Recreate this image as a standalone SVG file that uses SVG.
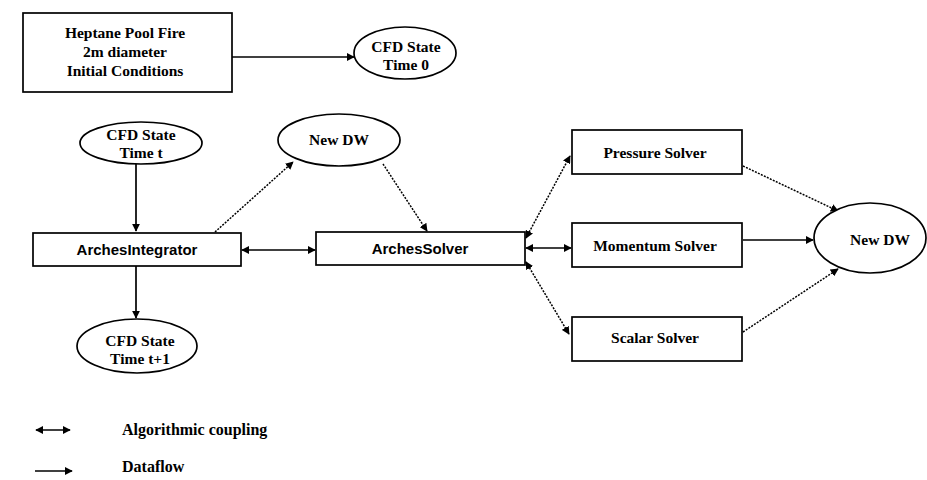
<svg xmlns="http://www.w3.org/2000/svg" width="927" height="480" viewBox="0 0 927 480">
<defs>
<marker id="ah" viewBox="0 0 10 10" refX="9" refY="5" markerWidth="8" markerHeight="8" orient="auto-start-reverse" markerUnits="userSpaceOnUse">
<path d="M0,0 L10,5 L0,10 z" fill="#000"/>
</marker>
<style>
.box{fill:#fff;stroke:#000;stroke-width:1.7}
.ell{fill:#fff;stroke:#000;stroke-width:1.7}
.t{font-family:"Liberation Serif","Times New Roman",serif;font-size:15.5px;font-weight:bold;fill:#000;text-anchor:middle}
.s{font-family:"Liberation Sans",Arial,sans-serif;font-size:15px;font-weight:bold;fill:#000;text-anchor:middle}
.lg{font-family:"Liberation Serif","Times New Roman",serif;font-size:16px;font-weight:bold;fill:#000}
.ln{fill:none;stroke:#000;stroke-width:1.7}
.dot{fill:none;stroke:#000;stroke-width:1.5;stroke-dasharray:2 1.3}
</style>
</defs>
<rect width="927" height="480" fill="#fff"/>

<g id="connectors">
<line class="ln" x1="232" y1="57" x2="354" y2="57" marker-end="url(#ah)"/>
<line class="ln" x1="136" y1="163" x2="136" y2="231" marker-end="url(#ah)"/>
<line class="ln" x1="136" y1="266" x2="136" y2="318" marker-end="url(#ah)"/>
<line class="dot" x1="215" y1="232" x2="293" y2="162" marker-end="url(#ah)"/>
<line class="dot" x1="383" y1="164" x2="427" y2="231" marker-end="url(#ah)"/>
<line class="ln" x1="242" y1="250" x2="315" y2="250" marker-start="url(#ah)" marker-end="url(#ah)"/>
<line class="dot" x1="526" y1="238" x2="570" y2="156" marker-start="url(#ah)" marker-end="url(#ah)"/>
<line class="ln" x1="526" y1="248" x2="571" y2="248" marker-start="url(#ah)" marker-end="url(#ah)"/>
<line class="dot" x1="526" y1="262" x2="569" y2="334" marker-start="url(#ah)" marker-end="url(#ah)"/>
<line class="dot" x1="743" y1="166" x2="838" y2="211" marker-end="url(#ah)"/>
<line class="ln" x1="743" y1="240" x2="813" y2="240" marker-end="url(#ah)"/>
<line class="dot" x1="743" y1="332" x2="838" y2="269" marker-end="url(#ah)"/>
</g>

<g id="initial">
<rect class="box" x="23" y="13" width="209" height="79"/>
<text class="t" x="125" y="38">Heptane Pool Fire</text>
<text class="t" x="125" y="57">2m diameter</text>
<text class="t" x="125" y="76">Initial Conditions</text>
</g>

<g id="state0">
<ellipse class="ell" cx="405" cy="53" rx="51" ry="26"/>
<text class="t" x="406" y="52">CFD State</text>
<text class="t" x="406" y="70">Time 0</text>
</g>

<g id="statet">
<ellipse class="ell" cx="141" cy="143" rx="61" ry="21"/>
<text class="t" x="141" y="140">CFD State</text>
<text class="t" x="141" y="158">Time t</text>
</g>

<g id="newdw1">
<ellipse class="ell" cx="339" cy="140" rx="61" ry="26"/>
<text class="t" x="339" y="145">New DW</text>
</g>

<g id="integrator">
<rect class="box" x="33" y="233" width="208" height="33"/>
<text class="s" x="137" y="255">ArchesIntegrator</text>
</g>

<g id="solver">
<rect class="box" x="316" y="232" width="209" height="33"/>
<text class="s" x="420" y="254">ArchesSolver</text>
</g>

<g id="statet1">
<ellipse class="ell" cx="137" cy="346" rx="60" ry="27"/>
<text class="t" x="140" y="346">CFD State</text>
<text class="t" x="140" y="364">Time t+1</text>
</g>

<g id="pressure">
<rect class="box" x="572" y="130" width="170" height="44"/>
<text class="t" x="655" y="158">Pressure Solver</text>
</g>

<g id="momentum">
<rect class="box" x="572" y="223" width="170" height="44"/>
<text class="t" x="655" y="251">Momentum Solver</text>
</g>

<g id="scalar">
<rect class="box" x="572" y="317" width="170" height="44"/>
<text class="t" x="655" y="343">Scalar Solver</text>
</g>

<g id="newdw2">
<ellipse class="ell" cx="870" cy="238" rx="56" ry="35"/>
<text class="t" x="880" y="245">New DW</text>
</g>

<g id="legend">
<line class="ln" x1="36" y1="430" x2="70" y2="430" marker-start="url(#ah)" marker-end="url(#ah)"/>
<text class="lg" x="122" y="435">Algorithmic coupling</text>
<line class="ln" x1="35" y1="471" x2="72" y2="471" marker-end="url(#ah)"/>
<text class="lg" x="122" y="472">Dataflow</text>
</g>
</svg>
